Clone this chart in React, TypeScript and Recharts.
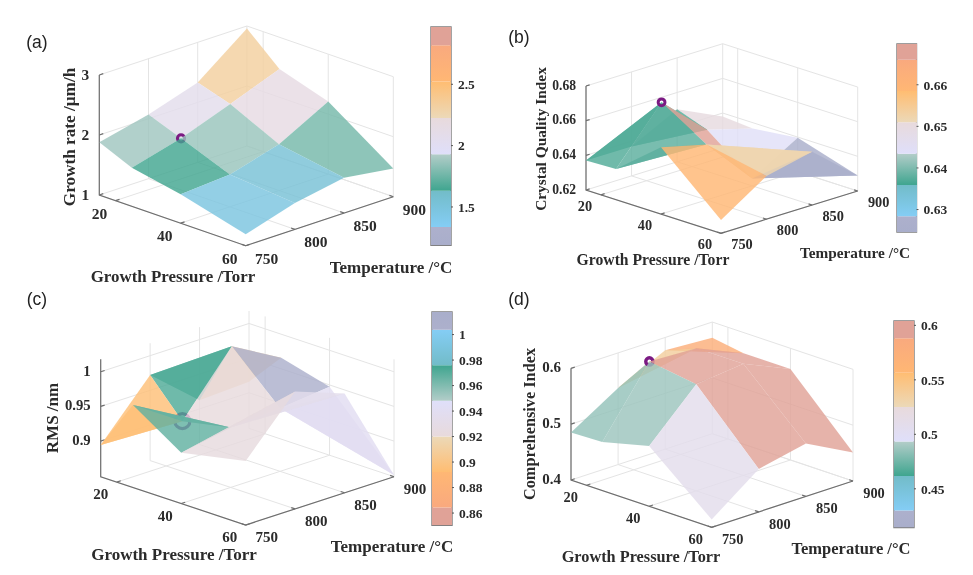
import React from 'react';
import { ScatterChart, Scatter, XAxis, YAxis, BarChart, Bar, ReferenceArea } from 'recharts';

const pressures = [15, 25, 40, 60];
const temperatures = [750, 800, 850, 900];
const pressureTicks = [20, 40, 60];
const temperatureTicks = [750, 800, 850, 900];

const growthRate = [
  [1.88, 2.07, 2.33, 2.96],
  [1.64, 1.86, 2.16, 2.47],
  [1.48, 1.54, 1.77, 2.21],
  [1.19, 1.44, 1.59, 1.47],
];
const crystalIndex = [
  [0.637, 0.637, 0.6503, 0.638],
  [0.6377, 0.668, 0.644, 0.6367],
  [0.6585, 0.652, 0.6243, 0.6396],
  [0.6277, 0.645, 0.6508, 0.629],
];
const rms = [
  [0.8943, 0.972, 0.9126, 0.916],
  [0.9674, 0.921, 1.006, 0.966],
  [0.922, 0.935, 0.9395, 0.9476],
  [0.941, 1.018, 0.992, 0.851],
];
const comprehensive = [
  [0.485, 0.537, 0.577, 0.572],
  [0.487, 0.6036, 0.5994, 0.563],
  [0.508, 0.591, 0.6, 0.563],
  [0.414, 0.477, 0.495, 0.451],
];

const growthTicks = [1, 2, 3];
const crystalTicks = [0.62, 0.64, 0.66, 0.68];
const rmsTicks = [0.9, 0.95, 1];
const compTicks = [0.4, 0.5, 0.6];

const growthBarTicks = [1.5, 2, 2.5];
const crystalBarTicks = [0.63, 0.64, 0.65, 0.66];
const rmsBarTicks = [0.86, 0.88, 0.9, 0.92, 0.94, 0.96, 0.98, 1];
const compBarTicks = [0.45, 0.5, 0.55, 0.6];

// seven colour bands of the colormap, low to high
const bandFractions = [1 / 12, 1 / 6, 1 / 6, 1 / 6, 1 / 6, 1 / 6, 1 / 12];
const bandColors: [string, string][] = [
  ['#a9aecb', '#adb0cc'],
  ['#84cdf5', '#72bcc8'],
  ['#3fa58f', '#b3cdc9'],
  ['#dfdffa', '#e8dadc'],
  ['#ecd9b8', '#ffbd72'],
  ['#ffb774', '#f9a97e'],
  ['#e0a297', '#e0a297'],
];
const ALPHA = 0.82;

const FONT = '"Liberation Serif", serif';
const INK = '#2b2b2b';

type Panel = any;
const panels: Panel[] = [
  {
    id: 'a', label: '(a)', labelAt: [37, 42], values: growthRate, zTicks: growthTicks, zMin: 1, zTop: 3, pxPerUnit: 60,
    left: [99.3, 195], front: [245.7, 245.7], right: [393.3, 196.7], colorMin: 1.1875, colorMax: 2.967, flip: false,
    zTitle: 'Growth rate /µm/h', zAt: [69, 137], zSize: 17.2, pAt: [173, 276], pSize: 16.9, tAt: [391, 267], tSize: 17,
    bar: [430.7, 26.7, 20, 218.3], barTicks: growthBarTicks, marker: 'center', ring: [3.6, 3], tickSize: 15.5, zTickSize: 15.4, tickDrop: 12.5,
  },
  {
    id: 'b', label: '(b)', labelAt: [519, 37], values: crystalIndex, zTicks: crystalTicks, zMin: 0.62, zTop: 0.68, pxPerUnit: 1733,
    left: [586, 190], front: [721, 233.3], right: [857.7, 191], colorMin: 0.6246, colorMax: 0.6698, flip: false,
    zTitle: 'Crystal Quality Index', zAt: [540, 139], zSize: 15.4, pAt: [653, 259], pSize: 15.7, tAt: [855, 252], tSize: 15.3,
    bar: [896.7, 44.3, 19.5, 188], barTicks: crystalBarTicks, marker: 'last', ring: [3.4, 3], tickSize: 14.3, zTickSize: 13.6, tickDrop: 11,
  },
  {
    id: 'c', label: '(c)', labelAt: [37, 299], values: rms, zTicks: rmsTicks, zMin: 0.8486, zTop: 1.018, pxPerUnit: 693,
    left: [100.7, 476.7], front: [245.7, 525], right: [394, 476.7], colorMin: 0.8504, colorMax: 1.0177, flip: true,
    zTitle: 'RMS /nm', zAt: [52, 418], zSize: 17, pAt: [174, 554], pSize: 17, tAt: [392, 546], tSize: 17,
    bar: [431.7, 311.7, 20, 213.3], barTicks: rmsBarTicks, marker: 'first', ring: [7.5, 3.2], tickSize: 15, zTickSize: 14.7, tickDrop: 12,
  },
  {
    id: 'd', label: '(d)', labelAt: [519, 299], values: comprehensive, zTicks: compTicks, zMin: 0.4, zTop: 0.6, pxPerUnit: 558.3,
    left: [571, 480], front: [711.7, 527.3], right: [853, 481], colorMin: 0.4144, colorMax: 0.604, flip: false,
    zTitle: 'Comprehensive Index', zAt: [529, 424], zSize: 16.3, pAt: [641, 556], pSize: 16.3, tAt: [851, 548], tSize: 16.5,
    bar: [894.3, 320.7, 20, 206.6], barTicks: compBarTicks, marker: 'center', ring: [3.6, 3.4], tickSize: 14.4, zTickSize: 15, tickDrop: 12,
  },
];

const PMIN = pressures[0];
const PMAX = pressures[pressures.length - 1];
const TMIN = temperatures[0];
const TMAX = temperatures[temperatures.length - 1];

function project(p: Panel, P: number, T: number, z: number) {
  const pf = (P - PMIN) / (PMAX - PMIN);
  const tf = (T - TMIN) / (TMAX - TMIN);
  return {
    x: p.left[0] + pf * (p.front[0] - p.left[0]) + tf * (p.right[0] - p.front[0]),
    y: p.left[1] + pf * (p.front[1] - p.left[1]) + tf * (p.right[1] - p.front[1]) - (z - p.zMin) * p.pxPerUnit,
  };
}

const rgb = (h: string) => [1, 3, 5].map((i) => parseInt(h.slice(i, i + 2), 16));

function colormap(t0: number): number[] {
  const t = Math.min(0.9999, Math.max(0, t0));
  let start = 0;
  for (let b = 0; b < bandFractions.length; b++) {
    const end = start + bandFractions[b];
    if (t < end) {
      const f = (t - start) / bandFractions[b];
      const a = rgb(bandColors[b][0]);
      const c = rgb(bandColors[b][1]);
      return a.map((v, k) => v + (c[k] - v) * f);
    }
    start = end;
  }
  return rgb(bandColors[6][1]);
}

function faceColor(p: Panel, z: number) {
  let t = (z - p.colorMin) / (p.colorMax - p.colorMin);
  if (p.flip) t = 1 - t;
  const c = colormap(t).map((v) => Math.round(v));
  return `rgb(${c[0]},${c[1]},${c[2]})`;
}

const noMark = () => <g />;

function polyline(key: string, data: any[], line: any) {
  return <Scatter key={key} data={data} line={line} shape={noMark} isAnimationActive={false} legendType="none" />;
}

function textItems(key: string, items: any[]) {
  return (
    <Scatter
      key={key}
      data={items}
      isAnimationActive={false}
      legendType="none"
      shape={(s: any) => {
        const d = s.payload;
        return (
          <text
            x={s.cx}
            y={s.cy}
            textAnchor={d.anchor || 'middle'}
            dominantBaseline="central"
            fontFamily={d.family || FONT}
            fontWeight={d.weight || 700}
            fontSize={d.size}
            fill={d.color || INK}
            transform={d.rotate ? `rotate(${d.rotate} ${s.cx} ${s.cy})` : undefined}
          >
            {d.text}
          </text>
        );
      }}
    />
  );
}

const area2 = (a: any, b: any, c: any) => (b.x - a.x) * (c.y - a.y) - (c.x - a.x) * (b.y - a.y);

function drawPanel(p: Panel) {
  const out: any[] = [];
  const gridStyle = { stroke: '#e4e4e4', strokeWidth: 1, fill: 'none' };
  const axisStyle = { stroke: '#6e6e6e', strokeWidth: 1.2, fill: 'none' };
  let n = 0;
  const k = () => `${p.id}-${n++}`;

  // back walls and floor
  temperatureTicks.forEach((T) => {
    out.push(polyline(k(), [project(p, PMIN, T, p.zMin), project(p, PMIN, T, p.zTop)], gridStyle));
    out.push(polyline(k(), [project(p, PMIN, T, p.zMin), project(p, PMAX, T, p.zMin)], gridStyle));
  });
  pressureTicks.forEach((P) => {
    out.push(polyline(k(), [project(p, P, TMAX, p.zMin), project(p, P, TMAX, p.zTop)], gridStyle));
    out.push(polyline(k(), [project(p, P, TMIN, p.zMin), project(p, P, TMAX, p.zMin)], gridStyle));
  });
  p.zTicks.forEach((z: number) => {
    out.push(polyline(k(), [project(p, PMIN, TMIN, z), project(p, PMIN, TMAX, z), project(p, PMAX, TMAX, z)], gridStyle));
  });

  // axes
  out.push(polyline(k(), [project(p, PMIN, TMIN, p.zTop), project(p, PMIN, TMIN, p.zMin), project(p, PMAX, TMIN, p.zMin), project(p, PMAX, TMAX, p.zMin)], axisStyle));
  p.zTicks.forEach((z: number) => out.push(polyline(k(), [project(p, PMIN, TMIN, z), project(p, PMIN, TMIN + 4, z)], axisStyle)));
  pressureTicks.forEach((P) => out.push(polyline(k(), [project(p, P, TMIN, p.zMin), project(p, P, TMIN + 4, p.zMin)], axisStyle)));
  temperatureTicks.forEach((T) => out.push(polyline(k(), [project(p, PMAX, T, p.zMin), project(p, PMAX - 1.2, T, p.zMin)], axisStyle)));

  // surface, back to front
  const cells: [number, number][] = [];
  for (let i = 0; i < 3; i++) for (let j = 0; j < 3; j++) cells.push([i, j]);
  cells.sort((a, b) => a[0] - a[1] - (b[0] - b[1]) || a[0] - b[0]);

  const V = (i: number, j: number) => project(p, pressures[i], temperatures[j], p.values[i][j]);
  const mark = () => {
    const v = V(1, 1);
    out.push(
      <Scatter
        key={k()}
        data={[v]}
        isAnimationActive={false}
        legendType="none"
        shape={(s: any) => <circle cx={s.cx} cy={s.cy} r={p.ring[0]} fill="none" stroke="#7b1a83" strokeWidth={p.ring[1]} />}
      />
    );
  };
  if (p.marker === 'first') mark();
  cells.forEach(([i, j]) => {
    if (p.marker === 'center' && i === 1 && j === 1) mark();
    const fill = faceColor(p, p.values[i][j]);
    const style = { fill, fillOpacity: ALPHA, stroke: 'none' };
    const A = V(i, j), B = V(i, j + 1), C = V(i + 1, j + 1), D = V(i + 1, j);
    if (area2(A, B, C) * area2(A, C, D) > 0) {
      out.push(polyline(k(), [A, B, C, D], style));
    } else {
      out.push(polyline(k(), [A, B, C], style));
      out.push(polyline(k(), [A, C, D], style));
    }
  });
  if (p.marker === 'last') mark();

  // texts
  const texts: any[] = [];
  pressureTicks.forEach((P) => {
    const q = project(p, P, TMIN, p.zMin);
    texts.push({ x: q.x - 16, y: q.y + p.tickDrop, text: String(P), size: p.tickSize });
  });
  temperatureTicks.forEach((T) => {
    const q = project(p, PMAX, T, p.zMin);
    texts.push({ x: q.x + 21, y: q.y + p.tickDrop, text: String(T), size: p.tickSize });
  });
  p.zTicks.forEach((z: number) => {
    const q = project(p, PMIN, TMIN, z);
    texts.push({ x: q.x - 10, y: q.y - 1, text: String(z), size: p.zTickSize, anchor: 'end' });
  });
  texts.push({ x: p.zAt[0], y: p.zAt[1], text: p.zTitle, size: p.zSize, rotate: -90 });
  texts.push({ x: p.pAt[0], y: p.pAt[1], text: 'Growth Pressure /Torr', size: p.pSize });
  texts.push({ x: p.tAt[0], y: p.tAt[1], text: 'Temperature /°C', size: p.tSize });
  texts.push({ x: p.labelAt[0], y: p.labelAt[1], text: p.label, size: 17.5, weight: 400, family: '"Liberation Sans", sans-serif', color: '#222' });
  out.push(textItems(k(), texts));
  return out;
}

function ColorBar({ p }: { p: Panel }) {
  const [x, y, w, h] = p.bar;
  const pad = 8;
  const range = p.colorMax - p.colorMin;
  const order = p.flip ? [...bandFractions].reverse() : bandFractions;
  const row: any = { name: 'bar', base: p.colorMin };
  order.forEach((f, b) => (row[`band${b}`] = f * range));
  const colors = p.flip ? [...bandColors].reverse().map(([a, c]) => [c, a]) : bandColors;
  return (
    <div style={{ position: 'absolute', left: x - 1, top: y - pad }}>
      <BarChart
        width={w + 1 + 50}
        height={h + pad * 2}
        data={[row]}
        margin={{ top: pad, bottom: pad, left: 1, right: 0 }}
        barCategoryGap={0}
      >
        <defs>
          {colors.map((c, b) => (
            <linearGradient key={b} id={`cb-${p.id}-${b}`} x1="0" y1="1" x2="0" y2="0">
              <stop offset="0" stopColor={c[0]} />
              <stop offset="1" stopColor={c[1]} />
            </linearGradient>
          ))}
        </defs>
        <XAxis dataKey="name" hide />
        <YAxis
          orientation="right"
          width={50}
          type="number"
          domain={[p.colorMin, p.colorMax]}
          allowDataOverflow
          ticks={p.barTicks}
          interval={0}
          tickSize={2}
          tickMargin={5}
          axisLine={false}
          tickLine={{ stroke: '#555' }}
          tick={{ fontFamily: FONT, fontWeight: 700, fontSize: 13.5, fill: INK }}
        />
        <Bar dataKey="base" stackId="s" fill="none" isAnimationActive={false} />
        {order.map((_, b) => (
          <Bar key={b} dataKey={`band${b}`} stackId="s" fill={`url(#cb-${p.id}-${b})`} isAnimationActive={false} />
        ))}
        <ReferenceArea y1={p.colorMin} y2={p.colorMax} fill="none" fillOpacity={0} stroke="#7d7d7d" strokeWidth={1.4} />
      </BarChart>
    </div>
  );
}

export default function App() {
  return (
    <div style={{ position: 'absolute', left: 0, top: 0, width: 973, height: 575, overflow: 'hidden', background: '#fff', filter: 'blur(0.45px)' }}>
      <div style={{ position: 'absolute', left: 0, top: 0 }}>
        <ScatterChart width={973} height={575} margin={{ top: 0, right: 0, bottom: 0, left: 0 }}>
          <XAxis type="number" dataKey="x" domain={[0, 973]} hide />
          <YAxis type="number" dataKey="y" domain={[0, 575]} reversed hide />
          {panels.flatMap((p) => drawPanel(p))}
        </ScatterChart>
      </div>
      {panels.map((p) => (
        <ColorBar key={p.id} p={p} />
      ))}
    </div>
  );
}
